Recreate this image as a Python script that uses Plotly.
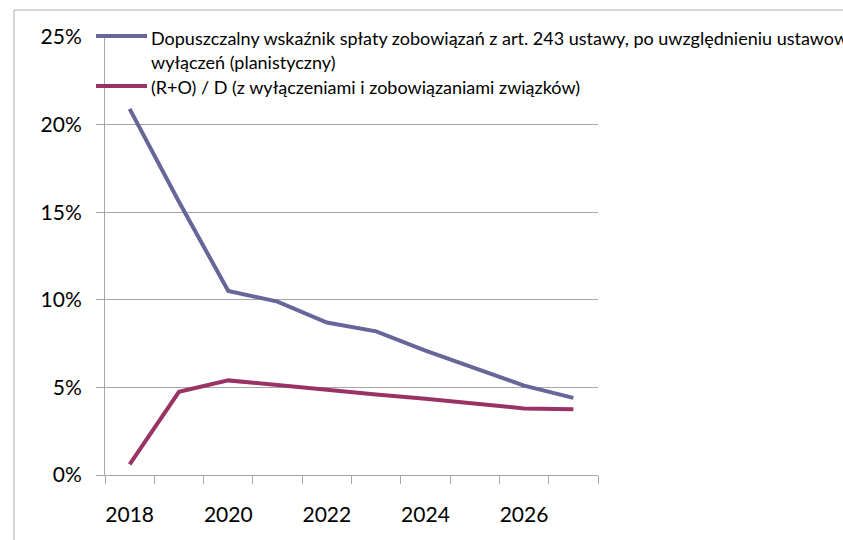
import plotly.graph_objects as go

years = [2018, 2019, 2020, 2021, 2022, 2023, 2024, 2025, 2026, 2027]
dopuszczalny = [20.9, 15.6, 10.5, 9.9, 8.7, 8.2, 7.1, 6.1, 5.1, 4.4]
ro_d = [0.6, 4.75, 5.4, 5.12, 4.85, 4.6, 4.35, 4.05, 3.8, 3.75]
series_names = [
    "Dopuszczalny wskaźnik spłaty zobowiązań z art. 243 ustawy, po uwzględnieniu ustawowych",
    "wyłączeń (planistyczny)",
    "(R+O) / D (z wyłączeniami i zobowiązaniami związków)",
]
x_tick_labels = [2018, 2020, 2022, 2024, 2026]
y_ticks = [0, 5, 10, 15, 20, 25]
y_tick_text = [f"{v}%" for v in y_ticks]

C1 = "#666699"
C2 = "#993366"
GRID = "#A6A6A6"
FONT = "Lato"

fig = go.Figure()
fig.add_trace(go.Scatter(x=years, y=dopuszczalny, mode="lines",
                         line=dict(color=C1, width=4), name=series_names[0] + " " + series_names[1],
                         showlegend=False))
fig.add_trace(go.Scatter(x=years, y=ro_d, mode="lines",
                         line=dict(color=C2, width=4), name=series_names[2],
                         showlegend=False))

L, R, T, B = 105, 245, 37, 65
W, H = 843, 540
pw, ph = W - L - R, H - T - B

def px(xp):
    return (xp - L) / pw

def py(yp):
    return (H - B - yp) / ph

shapes = [
    dict(type="rect", xref="paper", yref="paper", x0=px(14), x1=px(900), y0=py(600), y1=py(10),
         line=dict(color="#B0B0B0", width=1), fillcolor="rgba(0,0,0,0)", layer="below"),
    dict(type="line", xref="paper", yref="paper", x0=px(96), x1=px(147), y0=py(36), y1=py(36),
         line=dict(color=C1, width=4)),
    dict(type="line", xref="paper", yref="paper", x0=px(96), x1=px(147), y0=py(86), y1=py(86),
         line=dict(color=C2, width=4)),
]
annotations = [
    dict(xref="paper", yref="paper", x=px(149), y=py(y), xanchor="left", yanchor="middle",
         text=t, showarrow=False, font=dict(family=FONT, size=18, color="black"))
    for t, y in zip(series_names, [38, 62, 87])
]

fig.update_layout(
    width=W, height=H,
    margin=dict(l=L, r=R, t=T, b=B),
    paper_bgcolor="white", plot_bgcolor="white",
    font=dict(family=FONT, color="black"),
    shapes=shapes, annotations=annotations,
    showlegend=False,
)
fig.update_xaxes(
    range=[2017.5, 2027.5], tickmode="array", tickvals=x_tick_labels,
    ticktext=[str(v) for v in x_tick_labels], automargin=False,
    ticks="", showline=True, linecolor=GRID, linewidth=1, showgrid=False, zeroline=False,
    tickfont=dict(family=FONT, size=21, color="black"), ticklabelstandoff=21,
    minor=dict(ticks="outside", tick0=2017.5, dtick=1, ticklen=8, tickcolor=GRID, showgrid=False),
)
fig.update_yaxes(
    range=[0, 25], tickmode="array", tickvals=y_ticks, ticktext=y_tick_text, automargin=False,
    ticks="outside", ticklen=8, tickcolor=GRID, showline=True, linecolor=GRID, linewidth=1,
    showgrid=True, gridcolor=GRID, gridwidth=1, zeroline=False,
    tickfont=dict(family=FONT, size=21, color="black"), ticklabelstandoff=10,
)

fig.write_html("out.html", config={"displayModeBar": False},
               post_script="document.body.style.margin='0';")
